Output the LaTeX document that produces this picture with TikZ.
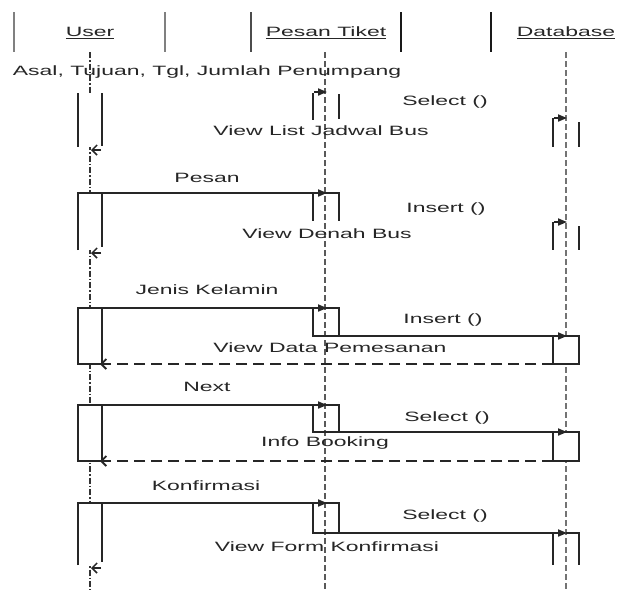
\documentclass[tikz,border=0pt]{standalone}
\usepackage{fontspec}
\setmainfont{Liberation Sans}[FakeStretch=1.7]
\usetikzlibrary{arrows.meta}
\tikzset{
  lbl/.style={font=\fontsize{13.5}{15}\selectfont, text=black!85, inner sep=0pt},
  hbar/.style={line width=2.2pt, draw=black!70},
  life/.style={draw=black!55, line width=2pt, dash pattern=on 6pt off 3pt},
  act/.style={draw=black!85, line width=1.9pt},
  msg/.style={draw=black!85, line width=1.8pt, -{Triangle[length=9pt,width=7pt]}},
  flag/.style={draw=black!85, line width=1.8pt, -{Triangle[length=9pt,width=7pt]}},
  ret/.style={draw=black!85, line width=1.8pt, dash pattern=on 11pt off 6pt, -{Straight Barb[length=5pt,width=10pt]}},
  rettip/.style={draw=black!85, line width=1.5pt, -{Straight Barb[length=5pt,width=10pt]}}
}
\begin{document}
\begin{tikzpicture}[x=1pt,y=-1pt]
\useasboundingbox[fill=white] (0,0) rectangle (631,590);

% header
\draw[hbar, draw=black!50] (14,12) -- (14,52);
\draw[hbar, draw=black!50] (165,12) -- (165,52);
\draw[hbar] (251,12) -- (251,52);
\draw[hbar, draw=black!90] (401,12) -- (401,52);
\draw[hbar, draw=black!90] (491,12) -- (491,52);
\node[lbl] (user) at (90,33) {\underline{User}};
\node[lbl] (pesan) at (326,33) {\underline{Pesan Tiket}};
\node[lbl] (db) at (566,33) {\underline{Database}};

% lifelines
\coordinate (uTop) at (90,52);
\coordinate (pTop) at (325,52);
\coordinate (dTop) at (566,52);
\coordinate (uEnd) at (90,590);
\coordinate (pEnd) at (325,590);
\coordinate (dEnd) at (566,590);
\draw[life, draw=black!80, line width=1.4pt, dash pattern=on 6pt off 2pt on 1.5pt off 2pt] (uTop) -- (uEnd);
\draw[life, draw=black!65] (pTop) -- (pEnd);
\draw[life] (dTop) -- (dEnd);

% white behind user activations
\fill[white] (79,93) rectangle (101,147);
\fill[white] (79,193) rectangle (101,250);
\fill[white] (79,308) rectangle (101,364);
\fill[white] (79,405) rectangle (101,461);
\fill[white] (79,503) rectangle (101,565);
\fill[white] (554,336) rectangle (578,364);
\fill[white] (554,432) rectangle (578,461);

% ---------- block 1 ----------
\draw[act] (78,93) -- (78,147);
\draw[act] (102,93) -- (102,146);
\draw[act] (313,93) -- (313,120);
\draw[act] (339,94) -- (339,119);
\draw[act] (553,118) -- (553,147);
\draw[act] (579,122) -- (579,147);
\coordinate (a1s) at (314,92); \coordinate (a1e) at (327,92);
\draw[flag] (a1s) -- (a1e);
\coordinate (b1s) at (554,118); \coordinate (b1e) at (567,118);
\draw[flag] (b1s) -- (b1e);
\coordinate (r1s) at (101,150); \coordinate (r1e) at (91,150);
\draw[rettip] (r1s) -- (r1e);
\node[lbl] (m1) at (207,72) {Asal, Tujuan, Tgl, Jumlah Penumpang};
\node[lbl] (m2) at (445,102) {Select ()};
\node[lbl] (m3) at (321,131) {View List Jadwal Bus};

% ---------- block 2 ----------
\draw[act] (78,250) -- (78,193) -- (339,193) -- (339,221);
\draw[act] (102,193) -- (102,247);
\draw[act] (313,193) -- (313,221);
\coordinate (a2s) at (300,193); \coordinate (a2e) at (327,193);
\draw[msg] (a2s) -- (a2e);
\draw[act] (553,222) -- (553,250);
\draw[act] (579,226) -- (579,250);
\coordinate (b2s) at (554,222); \coordinate (b2e) at (567,222);
\draw[flag] (b2s) -- (b2e);
\coordinate (r2s) at (101,253); \coordinate (r2e) at (91,253);
\draw[rettip] (r2s) -- (r2e);
\node[lbl] (m4) at (207,178) {Pesan};
\node[lbl] (m5) at (446,209) {Insert ()};
\node[lbl] (m6) at (327,234) {View Denah Bus};

% ---------- block 3 ----------
\draw[act] (78,308) rectangle (102,364);
\draw[act] (313,308) rectangle (339,336);
\draw[act] (553,336) rectangle (579,364);
\coordinate (a3s) at (102,308); \coordinate (a3e) at (327,308);
\draw[msg] (a3s) -- (a3e);
\draw[act] (326,308) -- (339,308);
\coordinate (b3s) at (339,336); \coordinate (b3e) at (567,336);
\draw[msg] (b3s) -- (b3e);
\draw[act] (566,336) -- (579,336);
\coordinate (r3s) at (553,364); \coordinate (r3e) at (100,364);
\draw[ret] (r3s) -- (r3e);
\node[lbl] (m7) at (207,290) {Jenis Kelamin};
\node[lbl] (m8) at (443,320) {Insert ()};
\node[lbl] (m9) at (330,348) {View Data Pemesanan};

% ---------- block 4 ----------
\draw[act] (78,405) rectangle (102,461);
\draw[act] (313,405) rectangle (339,432);
\draw[act] (553,432) rectangle (579,461);
\coordinate (a4s) at (102,405); \coordinate (a4e) at (327,405);
\draw[msg] (a4s) -- (a4e);
\draw[act] (326,405) -- (339,405);
\coordinate (b4s) at (339,432); \coordinate (b4e) at (567,432);
\draw[msg] (b4s) -- (b4e);
\draw[act] (566,432) -- (579,432);
\coordinate (r4s) at (553,461); \coordinate (r4e) at (100,461);
\draw[ret] (r4s) -- (r4e);
\node[lbl] (m10) at (207,387) {Next};
\node[lbl] (m11) at (447,418) {Select ()};
\node[lbl] (m12) at (325,443) {Info Booking};

% ---------- block 5 ----------
\draw[act] (78,565) -- (78,503) -- (102,503);
\draw[act] (102,503) -- (102,562);
\draw[act] (313,503) rectangle (339,533);
\coordinate (a5s) at (102,503); \coordinate (a5e) at (327,503);
\draw[msg] (a5s) -- (a5e);
\draw[act] (326,503) -- (339,503);
\coordinate (b5s) at (339,533); \coordinate (b5e) at (567,533);
\draw[msg] (b5s) -- (b5e);
\draw[act] (566,533) -- (579,533) -- (579,565);
\draw[act] (553,533) -- (553,565);
\coordinate (r5s) at (101,568); \coordinate (r5e) at (91,568);
\draw[rettip] (r5s) -- (r5e);
\node[lbl] (m13) at (206,486) {Konfirmasi};
\node[lbl] (m14) at (445,516) {Select ()};
\node[lbl] (m15) at (327,547) {View Form Konfirmasi};
\end{tikzpicture}
\end{document}
